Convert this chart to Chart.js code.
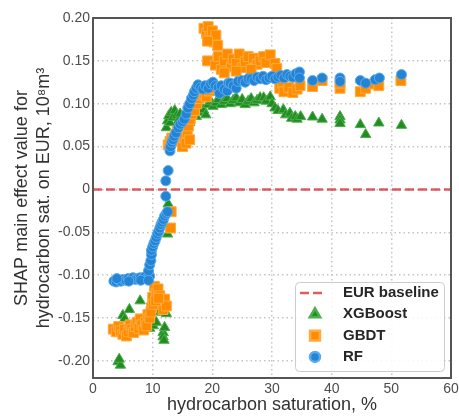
<!DOCTYPE html>
<html>
<head>
<meta charset="utf-8">
<script src="https://cdn.jsdelivr.net/npm/chart.js@4.4.1/dist/chart.umd.min.js"></script>
<style>
  html, body { margin: 0; padding: 0; background: #fff; }
  #wrap { width: 459px; height: 420px; }
</style>
</head>
<body>
<div id="wrap"><canvas id="shapChart" width="459" height="420"></canvas></div>
<script>
// ===== Data =====
const xTicks = [0, 10, 20, 30, 40, 50, 60];
const yTicks = [-0.20, -0.15, -0.10, -0.05, 0, 0.05, 0.10, 0.15, 0.20];
const seriesNames = ["EUR baseline", "XGBoost", "GBDT", "RF"];

const baselineX = [0, 60];
const baselineY = [0, 0];

// [hydrocarbon saturation %, SHAP value]
const xgbPoints = [
  [4.2,-0.201],[4.6,-0.205],[4.4,-0.198],[3.9,-0.163],[5.0,-0.147],[5.3,-0.151],[6.1,-0.140],[6.5,-0.160],
  [7.9,-0.130],[7.5,-0.165],[8.5,-0.160],[9.5,-0.162],[10.1,-0.159],[10.6,-0.155],[10.6,-0.143],[11.1,-0.136],
  [11.5,-0.143],[11.75,-0.167],[11.75,-0.172],[12.0,-0.161],[12.3,-0.145],[11.9,-0.176],
  [12.6,-0.017],[12.5,-0.052],
  [12.3,0.072],[12.5,0.080],[12.7,0.086],[12.9,0.078],[13.1,0.090],[13.4,0.084],[13.7,0.092],[14.0,0.086],
  [14.3,0.080],[14.6,0.088],[14.9,0.076],[15.2,0.082],[15.5,0.090],[15.8,0.084],[16.2,0.078],[16.5,0.086],
  [16.9,0.092],[17.3,0.085],[17.7,0.090],[18.1,0.096],[18.5,0.093],[18.9,0.087],[19.3,0.099],[19.7,0.103],
  [20.1,0.097],[20.6,0.101],[21.0,0.105],[21.5,0.099],[22.0,0.103],[22.5,0.106],[23.0,0.100],[23.5,0.104],
  [24.0,0.107],[24.5,0.101],[25.0,0.105],[25.5,0.099],[26.0,0.103],[26.5,0.106],[27.0,0.101],[27.5,0.104],
  [28.0,0.107],[28.6,0.107],[29.0,0.103],[29.7,0.108],[30.0,0.100],[30.5,0.095],[31.0,0.092],[31.9,0.093],
  [32.3,0.087],[33.0,0.089],[33.3,0.083],[33.9,0.085],[34.2,0.082],[34.8,0.085],
  [36.8,0.0845],[38.4,0.082],[41.4,0.085],[41.4,0.081],[41.4,0.077],[44.8,0.0756],[45.7,0.064],[47.9,0.0775],[51.7,0.0748]
];

const gbdtPoints = [
  [3.4,-0.163],[3.9,-0.166],[4.3,-0.160],[4.6,-0.165],[5.0,-0.169],[5.3,-0.163],[5.6,-0.171],[5.9,-0.166],
  [6.2,-0.158],[6.5,-0.163],[6.8,-0.167],[7.1,-0.160],[7.4,-0.155],[7.7,-0.162],[7.9,-0.151],[8.2,-0.158],
  [8.5,-0.164],[8.8,-0.155],[9.0,-0.159],[9.2,-0.146],[9.5,-0.150],[9.8,-0.138],[9.7,-0.143],
  [10.0,-0.126],[10.1,-0.134],[10.3,-0.113],[10.6,-0.121],[10.9,-0.116],[11.2,-0.124],[11.5,-0.130],
  [11.75,-0.140],[12.0,-0.128],[12.3,-0.136],[10.5,-0.130],[11.0,-0.127],
  [13.1,-0.026],[13.0,-0.045],
  [12.6,0.052],[12.9,0.056],[13.2,0.060],[13.5,0.058],[13.8,0.064],[14.1,0.068],[14.4,0.062],[14.7,0.056],
  [15.0,0.050],[15.3,0.060],[15.6,0.054],[15.8,0.066],[16.0,0.074],[16.2,0.058],[16.3,0.082],[16.6,0.088],
  [17.0,0.092],[17.4,0.100],[17.8,0.106],[18.2,0.110],[18.6,0.112],[19.0,0.108],[19.5,0.115],[20.0,0.118],
  [18.6,0.188],[19.0,0.182],[19.3,0.190],[19.6,0.178],[20.0,0.185],[20.3,0.172],[20.6,0.180],[20.9,0.168],
  [19.2,0.173],[19.2,0.150],
  [20.5,0.145],[21.0,0.155],[21.5,0.140],[22.0,0.150],[22.5,0.158],[23.2,0.143],[23.5,0.152],[24.0,0.147],
  [24.5,0.158],[25.0,0.142],[25.5,0.149],[26.0,0.155],[26.9,0.153],[27.5,0.146],[28.0,0.150],[28.6,0.155],
  [29.0,0.148],[29.7,0.157],[30.5,0.147],[30.8,0.141],[22.0,0.136],[24.0,0.138],[26.5,0.140],
  [31.3,0.118],[31.8,0.124],[32.0,0.114],[32.8,0.119],[33.5,0.113],[34.2,0.117],[34.7,0.121],
  [36.8,0.120],[38.4,0.127],[41.4,0.118],[41.4,0.124],[44.8,0.114],[45.7,0.118],[47.1,0.123],[47.9,0.121],[51.6,0.127]
];

const rfPoints = [
  [3.5,-0.107],[3.9,-0.108],[4.3,-0.106],[4.7,-0.107],[5.1,-0.105],[5.5,-0.106],[5.9,-0.104],[6.3,-0.105],
  [6.7,-0.103],[7.1,-0.105],[7.5,-0.104],[7.9,-0.103],[8.3,-0.104],[8.7,-0.102],[9.1,-0.103],[9.5,-0.101],
  [4.0,-0.104],[6.0,-0.107],[8.0,-0.106],[9.3,-0.106],
  [9.3,-0.095],[9.5,-0.088],[9.7,-0.083],[9.8,-0.076],[9.8,-0.071],[10.0,-0.067],[10.2,-0.063],[10.4,-0.060],
  [10.6,-0.056],[10.8,-0.052],[11.0,-0.049],[11.2,-0.045],[11.4,-0.041],[11.6,-0.038],[11.8,-0.035],
  [12.0,-0.031],[12.3,-0.028],[12.5,-0.026],[12.2,-0.008],[12.2,0.010],[12.6,0.022],
  [12.9,0.045],[13.0,0.050],[13.2,0.055],[13.4,0.058],[13.6,0.062],[13.9,0.066],[14.3,0.072],[14.6,0.076],
  [15.0,0.079],[15.3,0.082],[15.6,0.088],[15.9,0.095],[16.2,0.100],[16.5,0.106],[16.8,0.110],[17.0,0.114],
  [17.3,0.118],[17.6,0.122],[18.0,0.119],[18.4,0.117],[18.8,0.121],[19.3,0.118],[19.7,0.123],[20.1,0.125],
  [20.5,0.121],[21.0,0.119],[21.2,0.112],[21.5,0.121],[22.0,0.117],[22.5,0.115],[22.7,0.124],[23.0,0.124],
  [23.5,0.121],[24.0,0.118],[24.3,0.126],[25.0,0.127],[25.5,0.125],[26.0,0.129],[26.5,0.129],[27.0,0.127],
  [27.5,0.131],[28.0,0.129],[28.5,0.132],[29.0,0.128],[29.5,0.130],[30.0,0.132],[30.5,0.129],[31.0,0.131],
  [31.5,0.133],[32.0,0.130],[32.5,0.134],[33.0,0.132],[33.5,0.131],[34.0,0.135],[34.6,0.137],[34.6,0.130],
  [36.8,0.127],[38.4,0.130],[41.4,0.130],[41.4,0.126],[44.8,0.127],[45.7,0.124],[47.3,0.128],[48.0,0.130],[51.7,0.134]
];

const toXY = pts => pts.map(p => ({ x: p[0], y: p[1] }));

// ===== Plugins =====
const framePlugin = {
  id: "frame",
  afterDatasetsDraw(chart) {
    const { ctx, chartArea: a } = chart;
    ctx.save();
    ctx.strokeStyle = "#555";
    ctx.lineWidth = 2;
    ctx.strokeRect(a.left, a.top, a.right - a.left, a.bottom - a.top);
    ctx.restore();
  }
};

const boxLegend = {
  id: "boxLegend",
  afterDraw(chart) {
    const { ctx, chartArea: a } = chart;
    const w = 149, h = 89;
    const x0 = a.right - 7 - w, y0 = a.bottom - 7 - h;
    ctx.save();
    ctx.fillStyle = "rgba(255,255,255,0.9)";
    ctx.strokeStyle = "#cccccc";
    ctx.lineWidth = 1;
    ctx.beginPath();
    ctx.roundRect(x0 + 0.5, y0 + 0.5, w, h, 4);
    ctx.fill();
    ctx.stroke();

    ctx.font = "bold 15px 'Liberation Sans', Arial, sans-serif";
    ctx.textBaseline = "middle";
    ctx.textAlign = "left";
    chart.data.datasets.forEach((ds, i) => {
      const cy = y0 + 11 + i * 21.3;
      const mx = x0 + 20;
      if (ds.type === "line") {
        ctx.strokeStyle = ds.borderColor;
        ctx.lineWidth = ds.borderWidth;
        ctx.setLineDash(ds.borderDash);
        ctx.beginPath();
        ctx.moveTo(x0 + 5, cy);
        ctx.lineTo(x0 + 31, cy);
        ctx.stroke();
        ctx.setLineDash([]);
      } else {
        ctx.fillStyle = ds.backgroundColor;
        ctx.strokeStyle = ds.borderColor;
        Chart.helpers.drawPoint(ctx, {
          pointStyle: ds.pointStyle, radius: ds.pointRadius, rotation: 0, borderWidth: ds.borderWidth
        }, mx, cy);
      }
      ctx.fillStyle = "#262626";
      ctx.fillText(ds.label, x0 + 48, cy);
    });
    ctx.restore();
  }
};

// ===== Chart =====
Chart.defaults.font.family = "'Liberation Sans', Arial, sans-serif";

const ctx = document.getElementById("shapChart").getContext("2d");
new Chart(ctx, {
  type: "scatter",
  data: {
    datasets: [
      {
        type: "line",
        label: seriesNames[0],
        data: baselineX.map((x, i) => ({ x: x, y: baselineY[i] })),
        borderColor: "rgba(214,39,40,0.75)",
        borderWidth: 2.5,
        borderDash: [9, 4],
        pointRadius: 0,
        fill: false,
        order: 3
      },
      {
        label: seriesNames[1],
        data: toXY(xgbPoints),
        pointStyle: "triangle",
        pointRadius: 6,
        backgroundColor: "#228b22",
        borderColor: "#4cae4c",
        borderWidth: 1,
        order: 2
      },
      {
        label: seriesNames[2],
        data: toXY(gbdtPoints),
        pointStyle: "rect",
        pointRadius: 7,
        backgroundColor: "#ff8c00",
        borderColor: "#ffab40",
        borderWidth: 1,
        order: 1
      },
      {
        label: seriesNames[3],
        data: toXY(rfPoints),
        pointStyle: "circle",
        pointRadius: 5,
        backgroundColor: "#2384d4",
        borderColor: "#5aaaf0",
        borderWidth: 1,
        order: 0
      }
    ]
  },
  options: {
    responsive: false,
    devicePixelRatio: 1,
    animation: false,
    layout: { padding: { top: 18, right: 7, left: 0, bottom: 0 } },
    plugins: { legend: { display: false }, tooltip: { enabled: false } },
    scales: {
      x: {
        type: "linear",
        min: 0,
        max: 60,
        afterBuildTicks: s => { s.ticks = xTicks.map(v => ({ value: v })); },
        afterFit: s => { s.height = 42; s.paddingLeft = 0; s.paddingRight = 0; },
        ticks: { font: { size: 14 }, color: "#4d4d4d", padding: 3, maxRotation: 0 },
        grid: { color: "#c4c4c4", lineWidth: 1.5, drawTicks: false },
        border: { display: false, dash: [1.5, 3] },
        title: {
          display: true,
          text: "hydrocarbon saturation, %",
          font: { size: 18 },
          color: "#333",
          padding: { top: 0, bottom: 4 }
        }
      },
      y: {
        min: -0.22,
        max: 0.20,
        afterBuildTicks: s => { s.ticks = yTicks.map(v => ({ value: v })); },
        afterFit: s => { s.width = 93; s.paddingTop = 0; s.paddingBottom = 0; },
        ticks: {
          font: { size: 14 },
          color: "#4d4d4d",
          padding: 3,
          callback: v => (Math.abs(v) < 1e-9 ? "0" : v.toFixed(2))
        },
        grid: { color: "#c4c4c4", lineWidth: 1.5, drawTicks: false },
        border: { display: false, dash: [1.5, 3] },
        title: {
          display: true,
          text: ["SHAP main effect value for", "hydrocarbon sat. on EUR, 10\u2078m\u00B3"],
          font: { size: 18, lineHeight: 1.17 },
          color: "#333",
          padding: { top: 12, bottom: 0 }
        }
      }
    }
  },
  plugins: [framePlugin, boxLegend]
});
</script>
</body>
</html>
